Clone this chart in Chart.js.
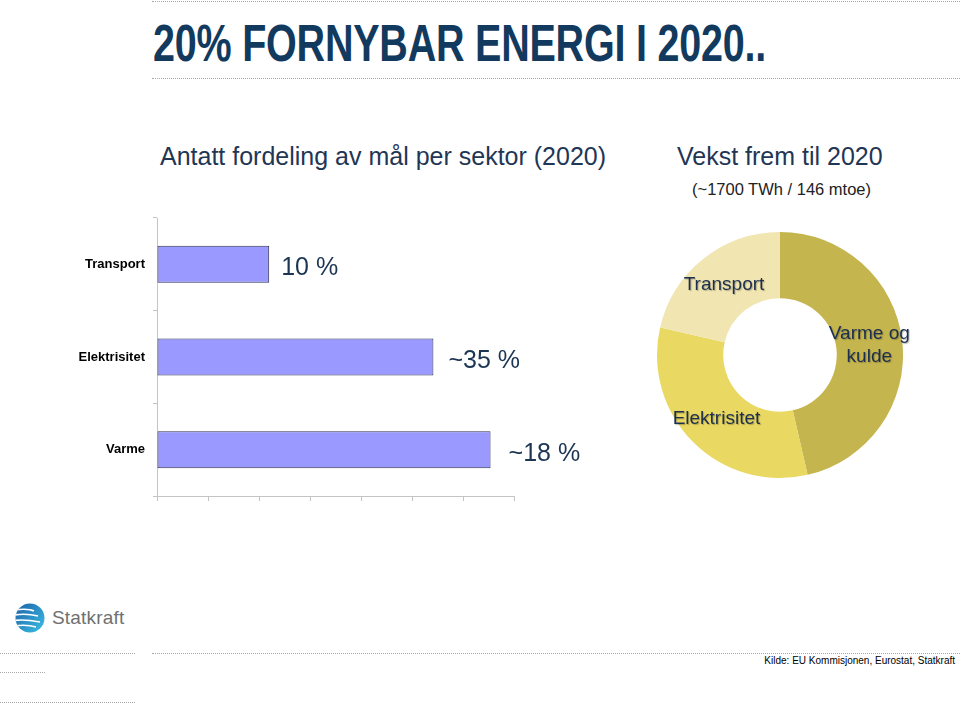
<!DOCTYPE html>
<html lang="no">
<head>
<meta charset="utf-8">
<title>20% fornybar energi i 2020</title>
<script src="https://cdn.jsdelivr.net/npm/chart.js@4.4.1/dist/chart.umd.min.js"></script>
<style>
  html, body { margin: 0; padding: 0; background: #fff; }
  body { width: 960px; height: 704px; position: relative; overflow: hidden; font-family: "Liberation Sans", Arial, Helvetica, sans-serif; }
  .dots { position: absolute; height: 0; border-top: 1px dotted #a8a8a8; }
  .title { position: absolute; left: 153px; top: 13px; margin: 0; font-size: 52px; font-weight: bold; color: #123a5e; white-space: nowrap; transform: scaleX(0.76); transform-origin: left top; letter-spacing: -0.3px; }
  .head { position: absolute; font-size: 25px; color: #1f3654; white-space: nowrap; }
  .sub { position: absolute; font-size: 16.5px; color: #222; white-space: nowrap; }
  .source { position: absolute; right: 5px; top: 655px; font-size: 10px; color: #000; white-space: nowrap; }
  .logo { position: absolute; left: 14px; top: 601px; display: flex; align-items: center; }
  .logo span { font-size: 19px; color: #707070; margin-left: 6px; letter-spacing: 0.2px; }
  canvas { position: absolute; }
</style>
</head>
<body>

<div class="dots" style="left:152px; top:1px; width:808px"></div>
<div class="dots" style="left:152px; top:78px; width:808px"></div>
<div class="dots" style="left:0; top:653px; width:135px"></div>
<div class="dots" style="left:152px; top:653px; width:808px"></div>
<div class="dots" style="left:0; top:672px; width:45px"></div>
<div class="dots" style="left:0; top:702px; width:135px"></div>

<h1 class="title">20% FORNYBAR ENERGI I 2020..</h1>

<div class="head" style="left:160px; top:142px">Antatt fordeling av mål per sektor (2020)</div>
<div class="head" style="left:677px; top:142px">Vekst frem til 2020</div>
<div class="sub" style="left:692px; top:180px">(~1700 TWh / 146 mtoe)</div>

<canvas id="bars" width="600" height="300" style="left:0; top:210px; width:600px; height:300px"></canvas>
<canvas id="ring" width="260" height="260" style="left:650px; top:225px; width:260px; height:260px"></canvas>

<div class="logo">
  <svg width="32" height="34" viewBox="0 0 32 34">
    <defs>
      <linearGradient id="g" x1="0" y1="0" x2="1" y2="1">
        <stop offset="0" stop-color="#1c5fa8"/>
        <stop offset="1" stop-color="#3cc2e4"/>
      </linearGradient>
      <clipPath id="c"><circle cx="16" cy="17" r="14.5"/></clipPath>
    </defs>
    <circle cx="16" cy="17" r="14.5" fill="url(#g)"/>
    <g clip-path="url(#c)" stroke="#fff" stroke-width="1.6" fill="none">
      <path d="M0 9 Q14 7 20 10"/>
      <path d="M0 14 Q12 12 24 15"/>
      <path d="M0 19.5 Q10 18 26 21"/>
      <path d="M0 25 Q12 23 22 26"/>
    </g>
  </svg>
  <span>Statkraft</span>
</div>

<div class="source">Kilde: EU Kommisjonen, Eurostat, Statkraft</div>

<script>
const sectors = ['Transport', 'Elektrisitet', 'Varme'];
const barValues = [11, 27.1, 32.7];
const barLabels = ['10 %', '~35 %', '~18 %'];

const ringSectors = ['Varme og kulde', 'Elektrisitet', 'Transport'];
const ringValues = [46.4, 32.2, 21.4];
const ringLabels = [['Varme og', 'kulde'], ['Elektrisitet'], ['Transport']];
const ringColors = ['#c5b54f', '#e9d862', '#f1e6b1'];

const fontName = '"Liberation Sans", Arial, Helvetica, sans-serif';
const axisGrey = '#c4c4c4';

// text to the right of every bar
const valueLabels = {
    id: 'valueLabels',
    afterDatasetsDraw(chart) {
        const ctx = chart.ctx;
        ctx.save();
        ctx.font = '25px ' + fontName;
        ctx.fillStyle = '#1b3553';
        ctx.textBaseline = 'middle';
        chart.getDatasetMeta(0).data.forEach((bar, i) => {
            ctx.fillText(barLabels[i], bar.x + 12 + i * 3, bar.y + 4);
        });
        ctx.restore();
    }
};

// names inside the ring slices
const ringText = {
    id: 'ringText',
    afterDatasetsDraw(chart) {
        const ctx = chart.ctx;
        ctx.save();
        ctx.font = '19px ' + fontName;
        ctx.fillStyle = '#1c2f4f';
        ctx.textAlign = 'center';
        ctx.textBaseline = 'middle';
        ctx.shadowColor = 'rgba(0,0,0,0.25)';
        ctx.shadowBlur = 1;
        ctx.shadowOffsetX = 1;
        ctx.shadowOffsetY = 1;
        chart.getDatasetMeta(0).data.forEach((arc, i) => {
            const p = arc.tooltipPosition();
            const lines = ringLabels[i];
            const lh = 23;
            lines.forEach((line, j) => {
                ctx.fillText(line, p.x, p.y + (j - (lines.length - 1) / 2) * lh);
            });
        });
        ctx.restore();
    }
};

new Chart(document.getElementById('bars'), {
    type: 'bar',
    data: {
        labels: sectors,
        datasets: [{
            data: barValues,
            backgroundColor: '#9999ff',
            borderColor: '#2f3150',
            borderWidth: 1,
            borderSkipped: false,
            categoryPercentage: 1,
            barPercentage: 0.4
        }]
    },
    options: {
        indexAxis: 'y',
        responsive: false,
        animation: false,
        layout: { padding: { top: 8, right: 86, left: 0, bottom: 0 } },
        plugins: { legend: { display: false }, tooltip: { enabled: false } },
        scales: {
            x: {
                min: 0,
                max: 35,
                ticks: { stepSize: 5, display: false },
                grid: { drawOnChartArea: false, tickLength: 5, color: axisGrey },
                border: { color: axisGrey },
                afterFit: s => { s.height = 14; }
            },
            y: {
                ticks: { color: '#000', padding: 8, font: { family: fontName, size: 13, weight: 'bold' } },
                grid: { drawOnChartArea: false, tickLength: 4, color: axisGrey },
                border: { color: axisGrey },
                afterFit: s => {
                    s.width = 157;
                    s.paddingTop = 0;
                    s.paddingBottom = 0;
                }
            }
        }
    },
    plugins: [valueLabels]
});

new Chart(document.getElementById('ring'), {
    type: 'doughnut',
    data: {
        labels: ringSectors,
        datasets: [{
            data: ringValues,
            backgroundColor: ringColors,
            borderWidth: 0,
            radius: 123,
            cutout: 60
        }]
    },
    options: {
        responsive: false,
        animation: false,
        plugins: { legend: { display: false }, tooltip: { enabled: false } }
    },
    plugins: [ringText]
});
</script>
</body>
</html>
